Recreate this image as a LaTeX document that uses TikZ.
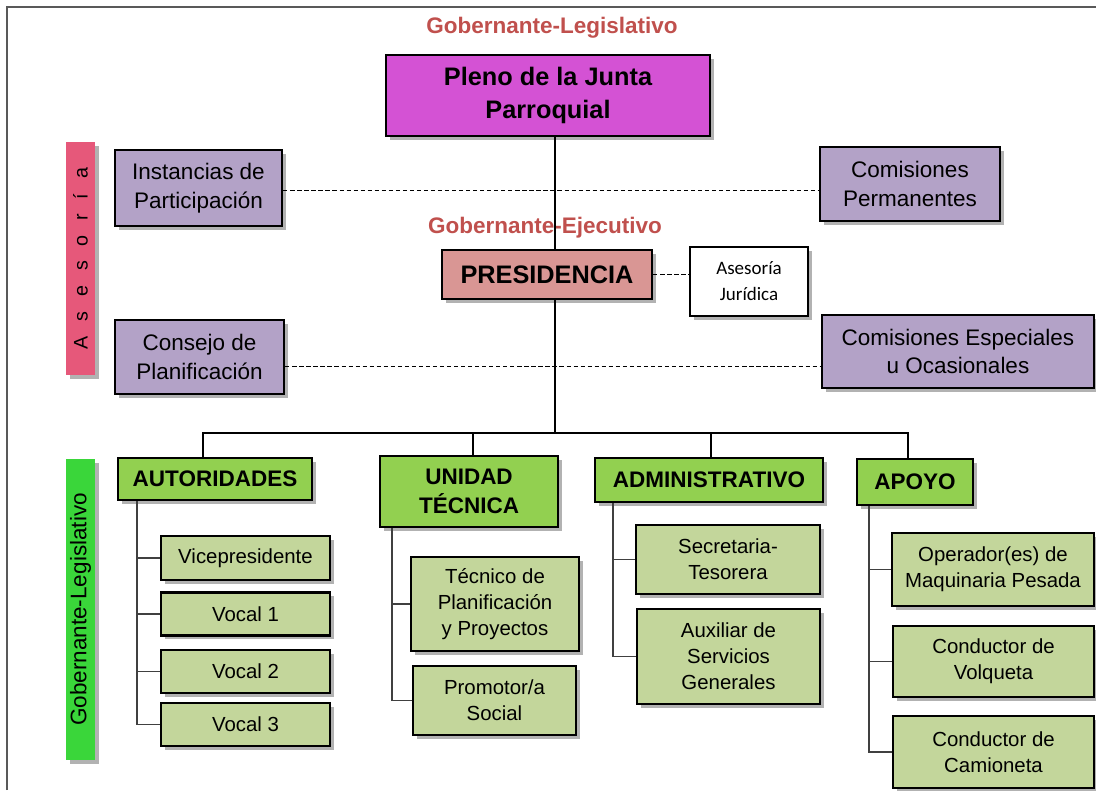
\documentclass[tikz,border=0pt]{standalone}
\usepackage{fontspec}
\setmainfont{Liberation Sans}
\newfontfamily\calibrifont{Carlito}
\usetikzlibrary{shadows}

\begin{document}
\begin{tikzpicture}[x=0.025cm, y=-0.025cm,
    box/.style={draw=black, line width=1.8pt, align=center, inner sep=2pt,
                drop shadow={shadow xshift=2.5pt, shadow yshift=-2.5pt, opacity=0.3, fill=black}},
    headbox/.style={box, fill=headGreen, font=\bfseries\fontsize{16}{21}\selectfont},
    subbox/.style={box, fill=subGreen, font=\fontsize{14.5}{18.5}\selectfont},
    advbox/.style={box, fill=advLilac, font=\fontsize{16}{20.5}\selectfont},
    strip/.style={inner sep=0pt, rotate=90,
                  drop shadow={shadow xshift=2.5pt, shadow yshift=-2.5pt, opacity=0.3, fill=black}},
    level/.style={text=levelRed, font=\bfseries\fontsize{16}{19}\selectfont},
    link/.style={black, line width=1.4pt},
    branch/.style={black!75, line width=0.8pt},
    advice/.style={black, line width=0.7pt, dash pattern=on 3pt off 2pt}]
    % Define colours
    \definecolor{plenoMagenta}{HTML}{D452D4}
    \definecolor{presRose}{HTML}{D99694}
    \definecolor{advLilac}{HTML}{B3A2C7}
    \definecolor{headGreen}{HTML}{92D050}
    \definecolor{subGreen}{HTML}{C3D69B}
    \definecolor{levelRed}{HTML}{C0504D}
    \definecolor{stripPink}{HTML}{E6587A}
    \definecolor{stripGreen}{HTML}{3AD63A}

    % Define letter spacing for the side label
    \def\gap{\hspace{10.5pt}}

  % Page and frame
  \useasboundingbox (0,0) rectangle (1096,790);
  \draw[black!65, line width=1pt] (7,790) -- (7,7) -- (1096,7);

  % Upper levels
  \node[level] (titleLeg) at (552,28) {Gobernante-Legislativo};
  \node[box, fill=plenoMagenta, minimum width={324*0.025cm}, minimum height={81*0.025cm},
        font=\bfseries\fontsize{18}{23.5}\selectfont] (pleno) at (548,95.5) {Pleno de la Junta\\Parroquial};
  \node[level] (titleEje) at (545,228) {Gobernante-Ejecutivo};
  \node[box, fill=presRose, minimum width={210*0.025cm}, minimum height={49*0.025cm},
        font=\bfseries\fontsize{18}{22}\selectfont] (pres) at (547,274.5) {PRESIDENCIA};
  \node[box, fill=white, minimum width={118*0.025cm}, minimum height={69*0.025cm},
        font=\calibrifont\fontsize{13.5}{18.5}\selectfont] (juridica) at (749,281.5) {Asesoría\\Jurídica};

  % Advisory bodies
  \node[advbox, minimum width={167*0.025cm}, minimum height={76*0.025cm}] (instancias) at (198.5,188) {Instancias de\\Participación};
  \node[advbox, minimum width={180*0.025cm}, minimum height={74*0.025cm}] (permanentes) at (910,184) {Comisiones\\Permanentes};
  \node[advbox, minimum width={169*0.025cm}, minimum height={74*0.025cm}] (consejo) at (199.5,357) {Consejo de\\Planificación};
  \node[advbox, minimum width={272*0.025cm}, minimum height={73*0.025cm}] (especiales) at (958,351.5) {Comisiones Especiales\\u Ocasionales};

  % Side strips
  \node[strip, fill=stripPink, minimum width={233*0.025cm}, minimum height={29*0.025cm},
        font=\fontsize{14}{16}\selectfont] (asesoria) at (80.5,258.5) {A\gap s\gap e\gap s\gap o\gap r\gap í\gap a};
  \node[strip, fill=stripGreen, minimum width={301*0.025cm}, minimum height={29*0.025cm},
        font=\fontsize{16}{18}\selectfont] (legislativo) at (80.5,609.5) {Gobernante-Legislativo};

  % Units
  \node[headbox, minimum width={194*0.025cm}, minimum height={42*0.025cm}] (autoridades) at (215,479) {AUTORIDADES};
  \node[headbox, minimum width={178*0.025cm}, minimum height={71*0.025cm}] (tecnica) at (469,491.5) {UNIDAD\\TÉCNICA};
  \node[headbox, minimum width={228*0.025cm}, minimum height={44*0.025cm}] (administrativo) at (709,480) {ADMINISTRATIVO};
  \node[headbox, minimum width={116*0.025cm}, minimum height={46*0.025cm}] (apoyo) at (915,482) {APOYO};

  % Staff under each unit
  \node[subbox, minimum width={169*0.025cm}, minimum height={44*0.025cm}] (vice) at (245.5,558) {Vicepresidente};
  \node[subbox, minimum width={169*0.025cm}, minimum height={43*0.025cm}] (vocal1) at (245.5,614) {Vocal 1};
  \node[subbox, minimum width={169*0.025cm}, minimum height={43*0.025cm}] (vocal2) at (245.5,671.5) {Vocal 2};
  \node[subbox, minimum width={169*0.025cm}, minimum height={43*0.025cm}] (vocal3) at (245.5,724.5) {Vocal 3};

  \node[subbox, minimum width={168*0.025cm}, minimum height={94*0.025cm}] (planif) at (495,604) {Técnico de\\Planificación\\y Proyectos};
  \node[subbox, minimum width={163*0.025cm}, minimum height={69*0.025cm}] (promotor) at (494.5,700.5) {Promotor/a\\Social};

  \node[subbox, minimum width={184*0.025cm}, minimum height={69*0.025cm}] (tesorera) at (728,559.5) {Secretaria-\\Tesorera};
  \node[subbox, minimum width={183*0.025cm}, minimum height={95*0.025cm}] (auxiliar) at (728.5,656.5) {Auxiliar de\\Servicios\\Generales};

  \node[subbox, minimum width={202*0.025cm}, minimum height={73*0.025cm}] (operador) at (993,569.5) {Operador(es) de\\Maquinaria Pesada};
  \node[subbox, minimum width={201*0.025cm}, minimum height={71*0.025cm}] (volqueta) at (993.5,661.5) {Conductor de\\Volqueta};
  \node[subbox, minimum width={201*0.025cm}, minimum height={72*0.025cm}] (camioneta) at (993.5,752) {Conductor de\\Camioneta};

  % Define the spine, bus and branch stems
  \coordinate (spine) at (555,433);
  \coordinate (autStem) at (137,0);
  \coordinate (tecStem) at (392,0);
  \coordinate (admStem) at (613,0);
  \coordinate (apoStem) at (869,0);

  % Draw the main line and the bus
  \draw[link] (pleno.south -| spine) -- (pres.north -| spine);
  \draw[link] (pres.south -| spine) -- (spine);
  \draw[link] (autoridades.north -| 203,0) -- (203,433) -- (908,433) -- (apoyo.north -| 908,0);
  \draw[link] (473,433) -- (tecnica.north -| 473,0);
  \draw[link] (711,433) -- (administrativo.north -| 711,0);

  % Draw the dashed advisory links
  \draw[advice] (instancias.east |- 0,190) -- (permanentes.west |- 0,190);
  \draw[advice] (consejo.east |- 0,366) -- (especiales.west |- 0,366);
  \draw[advice] (pres.east) -- (juridica.west |- pres.east);

  % Draw the branches
  \draw[branch] (autStem |- autoridades.south) |- (vocal3.west);
  \foreach \n in {vice,vocal1,vocal2}
    \draw[branch] (autStem |- \n.west) -- (\n.west);
  \draw[branch] (tecStem |- tecnica.south) |- (promotor.west);
  \draw[branch] (tecStem |- planif.west) -- (planif.west);
  \draw[branch] (admStem |- administrativo.south) |- (auxiliar.west);
  \draw[branch] (admStem |- tesorera.west) -- (tesorera.west);
  \draw[branch] (apoStem |- apoyo.south) |- (camioneta.west);
  \foreach \n in {operador,volqueta}
    \draw[branch] (apoStem |- \n.west) -- (\n.west);

\end{tikzpicture}
\end{document}
